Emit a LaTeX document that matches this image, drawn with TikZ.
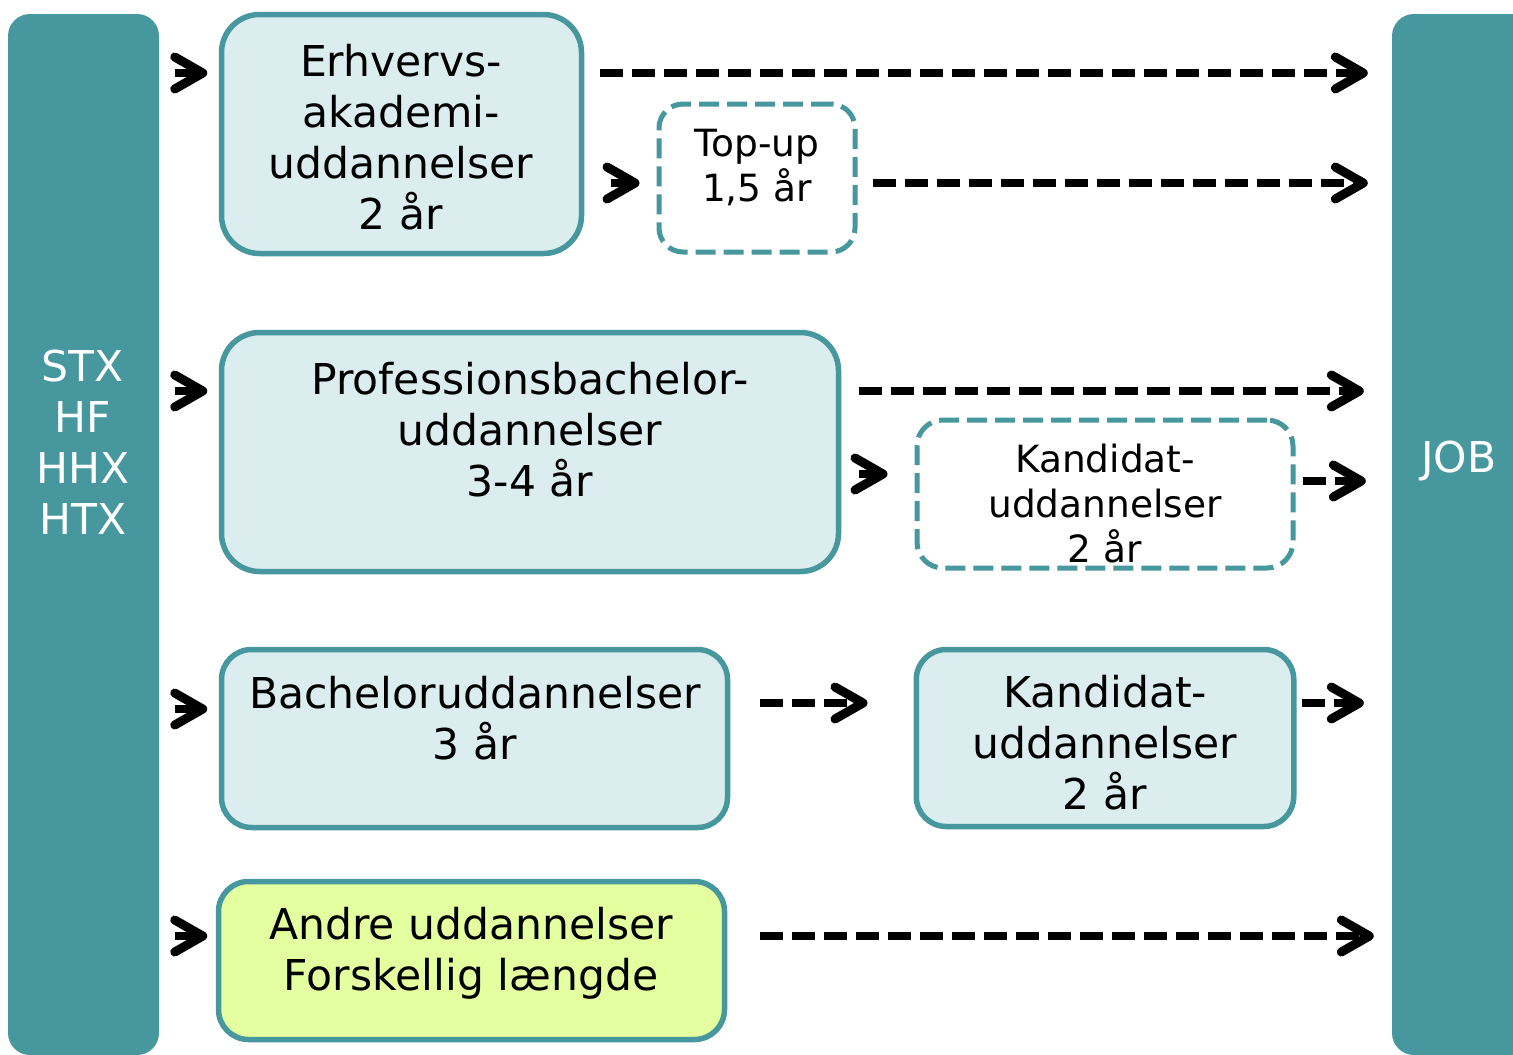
\documentclass[tikz,border=0pt]{standalone}
\usepackage{fontspec}
\setmainfont{DejaVu Sans}
\usetikzlibrary{arrows.meta}
\definecolor{teal1}{RGB}{71,151,158}
\definecolor{lightfill}{RGB}{219,237,238}
\definecolor{limefill}{RGB}{228,255,160}
\begin{document}
\begin{tikzpicture}[x=1pt,y=-1pt,
 bar/.style={fill=teal1, draw=none, rounded corners=22pt, inner sep=0pt},
 box/.style={draw=teal1, line width=5.5pt, fill=lightfill, rounded corners=38pt, inner sep=0pt},
 dbox/.style={draw=teal1, line width=5pt, fill=white, rounded corners=26pt, dash pattern=on 20pt off 8pt, inner sep=0pt},
 big/.style={font=\fontsize{42.5}{51}\selectfont, align=center, inner sep=0pt},
 small/.style={font=\fontsize{37.5}{45}\selectfont, align=center, inner sep=0pt},
 wtxt/.style={big, text=white},
 tip/.style={-{Straight Barb[length=28pt,width=32pt,line width=9pt,round]}},
 entry/.style={tip, line width=8pt},
 darr/.style={tip, line width=8pt, dash pattern=on 23pt off 9pt},
]
\useasboundingbox (0,0) rectangle (1513,1055);
\clip (0,0) rectangle (1513,1055);

% bars
\node[bar, minimum width=151pt, minimum height=1041pt] (lbar) at (83.5,534.5) {};
\node[bar, minimum width=168pt, minimum height=1041pt] (rbar) at (1476,534.5) {};
\node[wtxt] (lbart) at (83,442) {STX\\HF\\HHX\\HTX};
\node[wtxt] (rbart) at (1459,461) {JOB};

% boxes
\node[box, minimum width=360pt, minimum height=239pt] (erh) at (401.5,134) {};
\node[big] (erht) at (401,137) {Erhvervs-\\akademi-\\uddannelser\\2 år};

\node[dbox, rounded corners=24pt, minimum width=196pt, minimum height=148pt] (topup) at (757,178) {};
\node[small] (topupt) at (757,168) {Top-up\\1,5 år};

\node[box, minimum width=617pt, minimum height=239pt] (prof) at (530,452) {};
\node[big] (proft) at (530,430) {Professionsbachelor-\\uddannelser\\3-4 år};

\node[dbox, minimum width=376pt, minimum height=148pt] (kand1) at (1105,494) {};
\node[small] (kand1t) at (1105,504) {Kandidat-\\uddannelser\\2 år};

\node[box, rounded corners=30pt, minimum width=506pt, minimum height=178pt] (bach) at (474.5,738.5) {};
\node[big] (bacht) at (475,718) {Bacheloruddannelser\\3 år};

\node[box, rounded corners=30pt, minimum width=377.5pt, minimum height=177pt] (kand2) at (1105,738) {};
\node[big] (kand2t) at (1105,743) {Kandidat-\\uddannelser\\2 år};

\node[box, fill=limefill, rounded corners=30pt, minimum width=506pt, minimum height=158pt] (andre) at (471.5,960.5) {};
\node[big] (andret) at (471,953) {Andre uddannelser\\Forskellig længde};

% row coordinates
\coordinate (r1) at (0,73);
\coordinate (r2) at (0,183);
\coordinate (r3) at (0,391);
\coordinate (r4) at (0,474);
\coordinate (r4b) at (0,481);
\coordinate (r5e) at (0,709);
\coordinate (r5) at (0,703);
\coordinate (r6) at (0,936);

% connectors
\draw[entry] ([xshift=16pt]lbar.east |- r1) -- ([xshift=-11.5pt]erh.west |- r1);
\draw[darr] ([xshift=15.5pt]erh.east |- r1) -- ([xshift=-24pt]rbar.west |- r1);
\draw[entry] ([xshift=26.5pt]erh.east |- r2) -- ([xshift=-17pt]topup.west |- r2);
\draw[darr] ([xshift=15pt]topup.east |- r2) -- ([xshift=-24pt]rbar.west |- r2);

\draw[entry] ([xshift=16pt]lbar.east |- r3) -- ([xshift=-11.5pt]prof.west |- r3);
\draw[darr] ([xshift=17.5pt]prof.east |- r3) -- ([xshift=-28pt]rbar.west |- r3);
\draw[entry] ([xshift=17.5pt]prof.east |- r4) -- ([xshift=-27pt]kand1.west |- r4);
\draw[darr] ([xshift=7pt]kand1.east |- r4b) -- ([xshift=-26pt]rbar.west |- r4b);

\draw[entry] ([xshift=16pt]lbar.east |- r5e) -- ([xshift=-11.5pt]bach.west |- r5e);
\draw[darr] ([xshift=29.5pt]bach.east |- r5) -- ([xshift=-46pt]kand2.west |- r5);
\draw[darr] ([xshift=5pt]kand2.east |- r5) -- ([xshift=-28pt]rbar.west |- r5);

\draw[entry] ([xshift=16pt]lbar.east |- r6) -- ([xshift=-8.5pt]andre.west |- r6);
\draw[darr] ([xshift=32.5pt]andre.east |- r6) -- ([xshift=-18pt]rbar.west |- r6);
\end{tikzpicture}
\end{document}
